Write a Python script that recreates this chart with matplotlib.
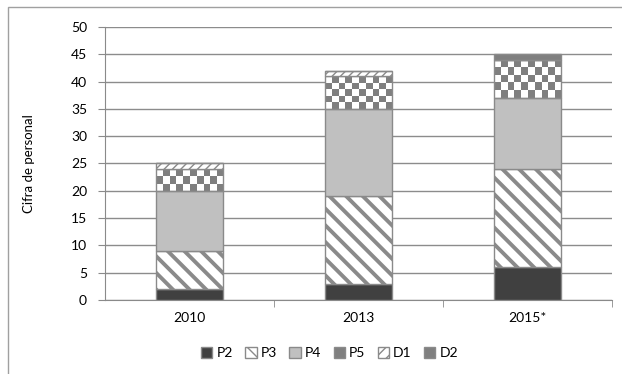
import numpy as np
import matplotlib.pyplot as plt
from matplotlib.colors import ListedColormap
from matplotlib.patches import Patch, Rectangle

# Cifra de personal por año y categoría
years = ['2010', '2013', '2015*']
p2 = [2, 3, 6]
p3 = [7, 16, 18]
p4 = [11, 16, 13]
p5 = [4, 6, 7]
d1 = [1, 1, 0]
d2 = [0, 0, 1]

plt.rcParams['font.family'] = ['Lato', 'DejaVu Sans']
edge = '#8a8a8a'

fig = plt.figure(figsize=(6.22, 3.74), dpi=100)
ax = fig.add_axes([0.169, 0.198, 0.815, 0.730])

x = np.arange(len(years))
w = 0.4
series = [p2, p3, p4, p5, d1, d2]
bottoms = np.vstack([np.zeros(3), np.cumsum(series, axis=0)[:-1]])

# P2 sólido oscuro
ax.bar(x, p2, w, bottom=bottoms[0], color='#404040', edgecolor=edge, lw=1, zorder=3)
# P3 rayas anchas
plt.rcParams['hatch.linewidth'] = 2.8
ax.bar(x, p3, w, bottom=bottoms[1], color='white', edgecolor=edge, hatch='\\\\', lw=1, zorder=3)
# P4 gris claro
ax.bar(x, p4, w, bottom=bottoms[2], color='#c0c0c0', edgecolor=edge, lw=1, zorder=3)
# P5 tablero de ajedrez
cmap = ListedColormap(['white', '#7f7f7f'])
for xi, b, h in zip(x, bottoms[3], p5):
    rows = max(1, int(round(h * 5.46 / 7)))
    cols = 10
    board = (np.add.outer(np.arange(rows), np.arange(cols)) % 2)
    ax.imshow(board, cmap=cmap, extent=(xi - w / 2, xi + w / 2, b, b + h),
              aspect='auto', interpolation='nearest', zorder=2.5, origin='lower')
ax.bar(x, p5, w, bottom=bottoms[3], facecolor='none', edgecolor=edge, lw=1, zorder=3)
# D1 rayado fino
plt.rcParams['hatch.linewidth'] = 1.0
ax.bar(x, d1, w, bottom=bottoms[4], color='white', edgecolor=edge, hatch='////', lw=1, zorder=3)
# D2 gris medio
ax.bar(x, d2, w, bottom=bottoms[5], color='#7f7f7f', edgecolor=edge, lw=1, zorder=3)

ax.set_xlim(-0.5, 2.5)
ax.set_ylim(0, 50)
ax.set_yticks(np.arange(0, 51, 5))
ax.set_xticks(x)
ax.set_xticklabels(years)
ax.set_xticks([0.5, 1.5, 2.5], minor=True)
ax.tick_params(axis='x', which='major', length=0, pad=9, labelsize=10)
ax.tick_params(axis='x', which='minor', length=5, color=edge)
ax.tick_params(axis='y', length=5, color=edge, pad=8, labelsize=10)
ax.yaxis.grid(True, color='#8c8c8c', lw=1)
ax.set_axisbelow(True)
for s in ['top', 'right']:
    ax.spines[s].set_visible(False)
for s in ['left', 'bottom']:
    ax.spines[s].set_color(edge)
ax.set_ylabel('Cifra de personal', fontsize=9.5, labelpad=26)

handles = [
    Patch(facecolor='#404040', edgecolor=edge),
    Patch(facecolor='white', edgecolor=edge, hatch='\\\\'),
    Patch(facecolor='#c0c0c0', edgecolor=edge),
    Patch(facecolor='#7f7f7f', edgecolor=edge),
    Patch(facecolor='white', edgecolor=edge, hatch='///'),
    Patch(facecolor='#7f7f7f', edgecolor=edge),
]
fig.legend(handles, ['P2', 'P3', 'P4', 'P5', 'D1', 'D2'], loc='center',
           bbox_to_anchor=(0.53, 0.055), ncol=6, frameon=False, fontsize=10,
           handlelength=0.8, handleheight=0.8, handletextpad=0.3, columnspacing=0.9)

# marco exterior del gráfico
fig.patches.append(Rectangle((8 / 622, -0.2), 1.2, 0.2 + 1 - 7 / 374,
                             transform=fig.transFigure, fill=False,
                             edgecolor='#a0a0a0', lw=1))

fig.savefig('out.png', dpi=100)
